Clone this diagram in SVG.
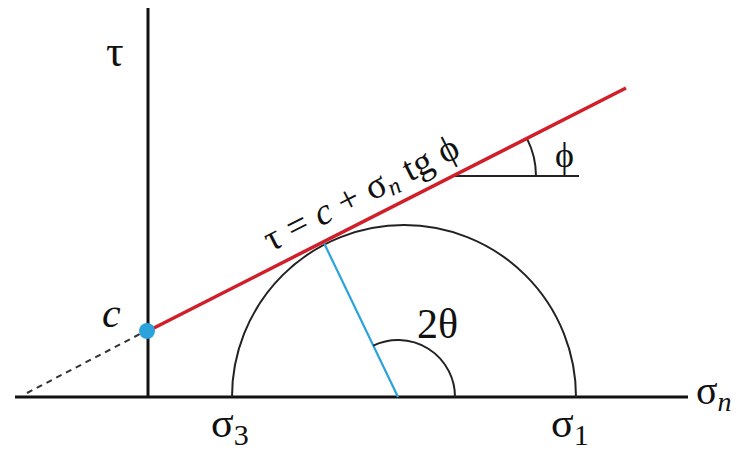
<svg xmlns="http://www.w3.org/2000/svg" width="736" height="451" viewBox="0 0 736 451">
<style>
text{font-family:"Liberation Serif","DejaVu Serif",serif;fill:#111}
.ax{stroke:#111;stroke-width:3;fill:none}
.thin{stroke:#222;stroke-width:2;fill:none}
.red{stroke:#d11f2a;stroke-width:3.5;fill:none}
.blue{stroke:#2aa3dc;stroke-width:2.2;fill:none}
</style>
<rect width="736" height="451" fill="#fff"/>
<g id="connectors">
<line class="ax" x1="15" y1="397" x2="688" y2="397"/>
<line class="ax" x1="148" y1="8" x2="148" y2="397"/>
<line x1="27" y1="393" x2="140" y2="334" stroke="#333" stroke-width="2" stroke-dasharray="6 5"/>
<path class="thin" d="M232,397 A172,172 0 0 1 576,397"/>
<line class="blue" x1="398" y1="397" x2="324" y2="243"/>
<path class="thin" d="M373.3,345.6 A57,57 0 0 1 455,397"/>
<line class="thin" x1="453" y1="176" x2="579" y2="176"/>
<path class="thin" d="M527,138.6 A83,83 0 0 1 536,176"/>
<line class="red" x1="148" y1="331" x2="626" y2="88"/>
</g>
<g id="node-c">
<circle cx="147" cy="331" r="8" fill="#2aa3dc"/>
<text x="102" y="327" font-size="42" font-style="italic">c</text>
</g>
<g id="label-tau"><text x="106" y="66" font-size="44">τ</text></g>
<g id="label-sigman"><text x="696" y="404" font-size="40">σ<tspan font-size="28" font-style="italic" dy="7">n</tspan></text></g>
<g id="label-sigma3"><text x="211" y="437" font-size="42">σ<tspan font-size="30" dy="8">3</tspan></text></g>
<g id="label-sigma1"><text x="551" y="437" font-size="42">σ<tspan font-size="30" dy="8">1</tspan></text></g>
<g id="label-2theta"><text x="417" y="338" font-size="42">2θ</text></g>
<g id="label-phi"><text x="555" y="167" font-size="36">ϕ</text></g>
<g id="label-eq"><text transform="translate(271,252) rotate(-26.8)" font-size="37" textLength="214" lengthAdjust="spacing">τ = <tspan font-style="italic">c</tspan> + σ<tspan font-size="24" font-style="italic" dy="5">n</tspan><tspan dy="-5"> tg ϕ</tspan></text></g>
</svg>
